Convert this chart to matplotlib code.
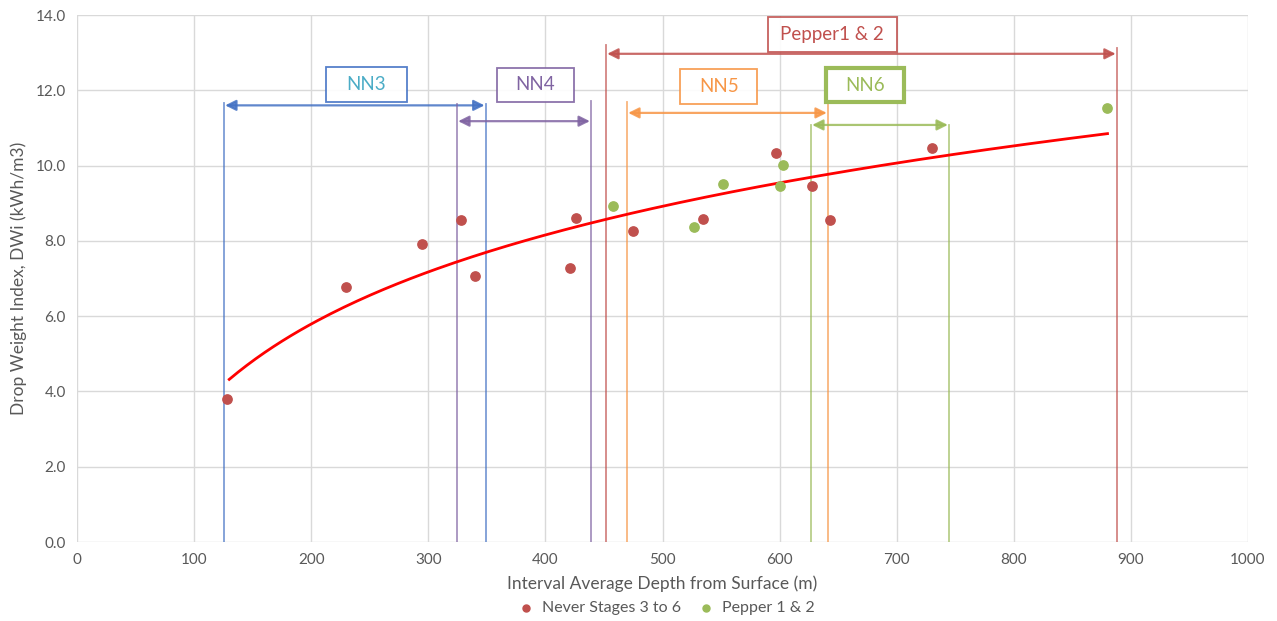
import numpy as np
import matplotlib.pyplot as plt
from matplotlib.patches import Rectangle

# data
never_x = [128, 230, 295, 328, 340, 421, 426, 475, 535, 597, 628, 643, 730]
never_y = [3.80, 6.77, 7.92, 8.55, 7.07, 7.28, 8.61, 8.26, 8.58, 10.33, 9.46, 8.55, 10.47]
pepper_x = [458, 527, 552, 600, 603, 880]
pepper_y = [8.93, 8.37, 9.51, 9.46, 10.02, 11.53]

# log trendline (fitted on all points)
all_x = np.array(never_x + pepper_x, dtype=float)
all_y = np.array(never_y + pepper_y)
a, b = np.polyfit(np.log(all_x), all_y, 1)
trend_x = np.linspace(130, 880, 200)
trend_y = a * np.log(trend_x) + b

# range annotations: name, left, right, left top, right top, arrow y,
# line colour, text colour, label box (x0, x1, y0, y1), thick border
ranges = [
    ("NN3", 125.5, 349, 11.66, 11.64, 11.6, "#4472C4", "#4BACC6", (212.6, 281.5, 11.70, 12.61), False),
    ("NN4", 324.5, 439, 11.64, 11.72, 11.18, "#8064A2", "#8064A2", (358.4, 424.1, 11.70, 12.59), False),
    ("Pepper1 & 2", 451.8, 888, 13.2, 13.12, 12.97, "#C0504D", "#C0504D", (590, 700, 13.02, 13.95), False),
    ("NN5", 469.7, 641.3, 11.7, 11.64, 11.4, "#F79646", "#F79646", (515, 581, 11.63, 12.57), False),
    ("NN6", 626.8, 744.7, 11.08, 11.08, 11.08, "#9BBB59", "#9BBB59", (639.6, 706.2, 11.69, 12.59), True),
]

plt.rcParams['font.family'] = ['Lato', 'DejaVu Sans']
fig = plt.figure(figsize=(12.77, 6.21), dpi=100)
ax = fig.add_axes([0.0603, 0.1272, 0.917, 0.8486])

ax.set_xlim(0, 1000)
ax.set_ylim(0, 14)
ax.set_xticks(np.arange(0, 1001, 100))
ax.set_yticks(np.arange(0, 14.1, 2))
ax.set_yticklabels([f"{v:.1f}" for v in np.arange(0, 14.1, 2)])
ax.grid(True, color="#D9D9D9", lw=1)
ax.set_axisbelow(True)
for s in ax.spines.values():
    s.set_visible(False)
ax.tick_params(length=0, colors="#595959", labelsize=11, pad=8)
ax.set_xlabel("Interval Average Depth from Surface (m)", color="#595959", fontsize=12.5, labelpad=6)
ax.set_ylabel("Drop Weight Index, DWi (kWh/m3)", color="#595959", fontsize=12.5, labelpad=6)

for name, x0, x1, t0, t1, ay, lc, tc, box, thick in ranges:
    ax.plot([x0, x0], [0, t0], color=lc, lw=1.3, alpha=0.7, zorder=2)
    ax.plot([x1, x1], [0, t1], color=lc, lw=1.3, alpha=0.7, zorder=2)
    ax.annotate("", xy=(x0 + 1, ay), xytext=(x1 - 1, ay),
                arrowprops=dict(arrowstyle="<|-|>", color=lc, lw=1.6, alpha=0.85,
                                mutation_scale=16, shrinkA=0, shrinkB=0), zorder=2)
    bx0, bx1, by0, by1 = box
    ax.add_patch(Rectangle((bx0, by0), bx1 - bx0, by1 - by0, fc="white", ec=lc,
                           lw=3 if thick else 1.3, zorder=4, alpha=0.9 if not thick else 1))
    ax.text((bx0 + bx1) / 2, (by0 + by1) / 2, name, color=tc, fontsize=13.5,
            ha="center", va="center", zorder=5)

ax.plot(trend_x, trend_y, color="red", lw=2, zorder=3)
ax.scatter(never_x, never_y, s=45, color="#C0504D", zorder=6, label="Never Stages 3 to 6")
ax.scatter(pepper_x, pepper_y, s=45, color="#9BBB59", zorder=6, label="Pepper 1 & 2")

leg = ax.legend(loc="upper center", bbox_to_anchor=(0.5, -0.085), ncol=2, frameon=False,
                fontsize=11.5, handletextpad=0.0, columnspacing=0.6, markerscale=0.75)
for t in leg.get_texts():
    t.set_color("#595959")

fig.savefig("out.png", dpi=100)
